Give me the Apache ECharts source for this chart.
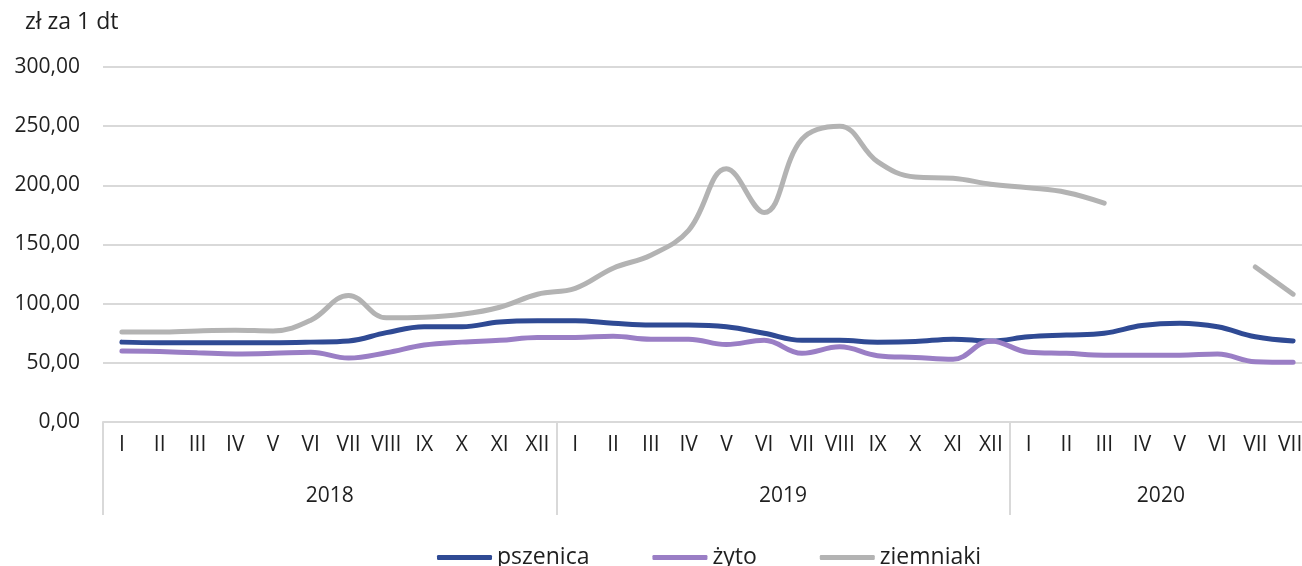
<!DOCTYPE html>
<html>
<head>
<meta charset="utf-8">
<script src="https://cdn.jsdelivr.net/npm/echarts@6/dist/echarts.min.js"></script>
<style>
  html, body { margin: 0; padding: 0; background: #fff; }
  #chart { width: 1302px; height: 566px; }
</style>
</head>
<body>
<div id="chart"></div>
<script>
// miesiace (rzymskie) i lata
const years = ['2018', '2019', '2020']
const monthsPerYear = [12, 12, 8]
const romanMonths = ['I', 'II', 'III', 'IV', 'V', 'VI', 'VII', 'VIII', 'IX', 'X', 'XI', 'XII']

// ceny w zł za 1 dt
const pszenica = [
  67.5, 67, 67, 67, 67, 67.5, 68.5, 75.5, 80.5, 80.5, 84.5, 85.5,
  85.5, 83.5, 82, 82, 80.5, 75, 69, 69, 67.5, 68, 70, 68.5,
  72, 73.5, 75, 81.5, 83.5, 80.5, 72, 68.5
]
const zyto = [
  60, 59.5, 58.5, 57.5, 58, 59, 54, 58.5, 65, 67.5, 69, 71.5,
  71.5, 72.5, 70, 70, 65.5, 69, 58, 63.5, 56, 54.5, 53, 68.5,
  59, 58, 56.5, 56.5, 56.5, 57.5, 51, 50.5
]
const ziemniaki = [
  76, 76, 77, 77.5, 77, 86, 107, 88, 88.5, 91, 97, 108,
  113, 130, 141, 162, 214, 177, 239, 250, 220, 207, 206, 201,
  198, 194, 185, null, null, null, 131, 108
]

const monthLabels = []
years.forEach((y, i) => {
  for (let m = 0; m < monthsPerYear[i]; m++) monthLabels.push(romanMonths[m])
})

// os lat: punkty na granicach miesiecy, etykieta w srodku kazdego roku
const yearAxis = new Array(monthLabels.length + 1).fill('')
const yearBounds = [0]
let start = 0
years.forEach((y, i) => {
  yearAxis[start + monthsPerYear[i] / 2] = y
  start += monthsPerYear[i]
  yearBounds.push(start)
})

const chart = echarts.init(document.getElementById('chart'))
const textColor = '#1f1f1f'
const gridColor = '#d9d9d9'
const font = 'Open Sans'

const option = {
  animation: false,
  title: {
    text: 'zł za 1 dt',
    left: 20,
    top: 6,
    textStyle: { fontFamily: font, fontSize: 23, fontWeight: 'normal', color: textColor }
  },
  legend: {
    data: ['pszenica', 'żyto', 'ziemniaki'],
    bottom: -8,
    left: 432,
    icon: 'roundRect',
    itemWidth: 55,
    itemHeight: 5,
    itemGap: 63,
    textStyle: { fontFamily: font, fontSize: 23, color: textColor }
  },
  grid: {
    left: 103,
    width: 1209,
    top: 67,
    bottom: 144,
    outerBoundsMode: 'none'
  },
  xAxis: [
    {
      type: 'category',
      data: monthLabels,
      boundaryGap: true,
      axisLine: { lineStyle: { color: gridColor, width: 2 } },
      axisTick: { show: false },
      axisLabel: {
        interval: 0,
        margin: 13,
        fontFamily: font,
        fontSize: 21,
        color: textColor
      }
    },
    {
      type: 'category',
      data: yearAxis,
      position: 'bottom',
      boundaryGap: false,
      axisLine: { show: false },
      axisTick: {
        show: true,
        length: 93,
        interval: (i) => yearBounds.indexOf(i) !== -1,
        lineStyle: { color: gridColor, width: 2 }
      },
      axisLabel: {
        interval: (i, v) => v !== '',
        margin: 64,
        fontFamily: font,
        fontSize: 21,
        color: textColor
      }
    }
  ],
  yAxis: {
    type: 'value',
    min: 0,
    max: 300,
    interval: 50,
    axisLine: { show: false },
    axisTick: { show: false },
    splitLine: { lineStyle: { color: gridColor, width: 2 } },
    axisLabel: {
      margin: 23,
      fontFamily: font,
      fontSize: 21,
      color: textColor,
      formatter: (v) => v.toFixed(2).replace('.', ',')
    }
  },
  series: [
    {
      name: 'pszenica',
      type: 'line',
      data: pszenica,
      smooth: 0.4,
      showSymbol: false,
      lineStyle: { width: 5, color: '#2f4a94', cap: 'round' },
      itemStyle: { color: '#2f4a94' }
    },
    {
      name: 'żyto',
      type: 'line',
      data: zyto,
      smooth: 0.4,
      showSymbol: false,
      lineStyle: { width: 5, color: '#9a7ec5', cap: 'round' },
      itemStyle: { color: '#9a7ec5' }
    },
    {
      name: 'ziemniaki',
      type: 'line',
      data: ziemniaki,
      smooth: 0.4,
      showSymbol: false,
      connectNulls: false,
      lineStyle: { width: 5, color: '#b3b3b3', cap: 'round' },
      itemStyle: { color: '#b3b3b3' }
    }
  ]
}
chart.setOption(option)
</script>
</body>
</html>
